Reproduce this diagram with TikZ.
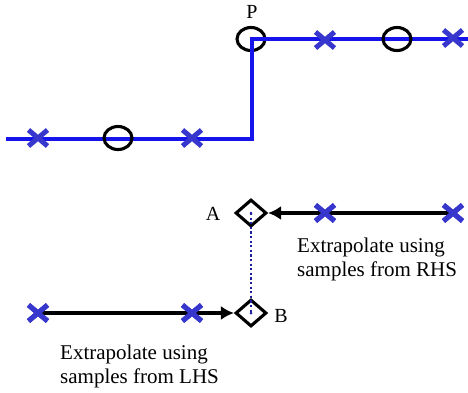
\documentclass[tikz,border=0pt]{standalone}
\usepackage{fontspec}
\setmainfont{Liberation Serif}
\usetikzlibrary{shapes.geometric,shapes.misc,arrows.meta}
\definecolor{lineblue}{RGB}{20,20,235}
\definecolor{crossblue}{RGB}{55,55,205}
\definecolor{dotblue}{RGB}{30,30,160}
\tikzset{
  sample/.style={cross out,draw=crossblue,line width=5pt,minimum width=14pt,minimum height=11pt,inner sep=0pt},
  ring/.style={ellipse,draw=black,line width=3.1pt,minimum width=28pt,minimum height=23pt,inner sep=0pt},
  gem/.style={diamond,draw=black,line width=3.1pt,minimum width=31pt,minimum height=27pt,inner sep=0pt},
  step line/.style={draw=lineblue,line width=3.6pt},
  extrap/.style={draw=black,line width=3.1pt,-{Latex[length=13pt,width=14pt]}},
  lbl/.style={font=\fontsize{20}{24}\selectfont,inner sep=0pt},
  note/.style={font=\fontsize{21}{24}\selectfont,align=left,inner sep=0pt,anchor=north west}
}
\begin{document}
\begin{tikzpicture}[x=1pt,y=-1pt]
\useasboundingbox (0,0) rectangle (468,392);
% top step signal
\coordinate (L0) at (6,139);
\coordinate (K) at (252,139);
\coordinate (R0) at (468,39);
\node[ring] (P) at (251,39) {};
\draw[step line] (L0) -- (K) -- (K|-R0) -- (R0);
\node[ring] (o1) at (118,138) {};
\node[ring] (o2) at (397,39) {};
\node[sample] (x1) at (38,138) {};
\node[sample] (x2) at (192,138) {};
\node[sample] (x3) at (325,40) {};
\node[sample] (x4) at (453,38) {};
\node[lbl] (Plbl) at (252,12) {P};
% bottom extrapolation
\node[gem] (A) at (251,213) {};
\node[gem] (B) at (251,313) {};
\draw[draw=dotblue,line width=2.2pt,dash pattern=on 2.2pt off 2.4pt] (A.center) -- (B.center);
\fill[dotblue] (A.center) circle (1.5pt);
\fill[dotblue] (B.center) circle (1.5pt);
\node[sample] (r1) at (325,213) {};
\node[sample] (r2) at (453,213) {};
\node[sample] (l1) at (38,313) {};
\node[sample] (l2) at (192,313) {};
\draw[extrap] (r2.center) -- (A);
\draw[extrap] (l1.center) -- (B);
\node[sample] at (r1) {};
\node[sample] at (r2) {};
\node[sample] at (l1) {};
\node[sample] at (l2) {};
\node[lbl] (Albl) at (213,214) {A};
\node[lbl] (Blbl) at (281,316) {B};
\node[note] (rhs) at (297,238) {Extrapolate using\\samples from RHS};
\node[note] (lhs) at (60,345) {Extrapolate using\\samples from LHS};
\end{tikzpicture}
\end{document}
